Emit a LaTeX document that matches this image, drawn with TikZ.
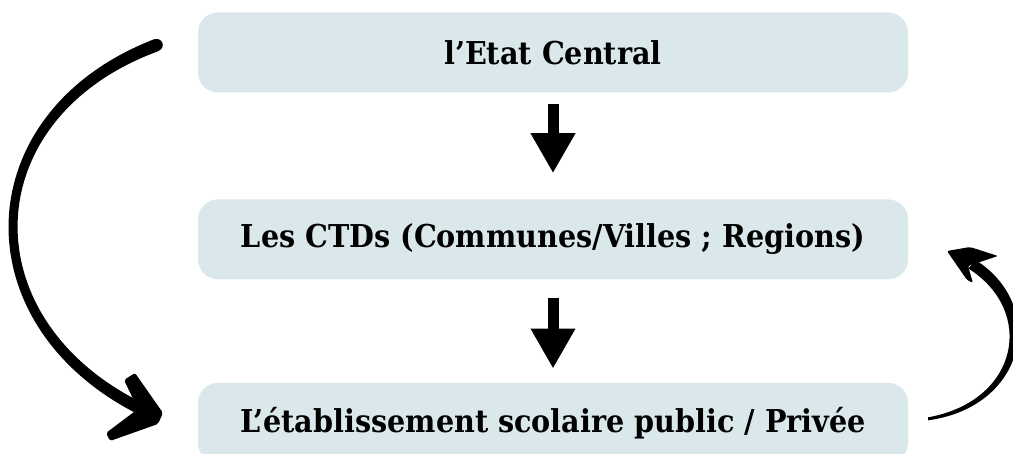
\documentclass[tikz,border=0pt]{standalone}
\usepackage{fontspec}
\setmainfont{DejaVu Serif}[FakeStretch=0.91]
\usepackage{tikz}
\usetikzlibrary{arrows.meta, positioning, calc}
\definecolor{boxfill}{RGB}{219,232,235}

\begin{document}
\begin{tikzpicture}[x=1pt, y=1pt,
  level/.style={fill=boxfill, rounded corners=20pt, minimum width=710pt, minimum height=80pt,
    font=\fontsize{31.5}{38}\selectfont\bfseries},
  down/.style={line width=11pt, -{Triangle[width=42pt, length=40pt]}}]
  \clip (0,0) rectangle (1013,454);
  \node[level] (etat) at (553,401.5) {l’Etat Central};
  \node[level, below=106.5pt of etat] (ctd) {Les CTDs (Communes/Villes ; Regions)};
  \node[level, below=103pt of ctd] (ecole) {L’établissement scolaire public / Privée};
  \draw[down, shorten <=11.5pt, shorten >=26pt] (etat) -- (ctd);
  \draw[down, shorten <=18pt, shorten >=14pt] (ctd) -- (ecole);
  % left brush arrow
  \coordinate (top) at ([xshift=-41pt, yshift=7.5pt]etat.west);
  \coordinate (bot) at ([xshift=-53pt, yshift=12pt]ecole.west);
  \fill (top) circle (6pt);
  \fill ($(top)+(-2,6)$) .. controls (-35,342) and (-41,127) .. ($(bot)+(-2.6,-5.5)$)
    -- ($(bot)+(2.6,5.5)$) .. controls (-30,132) and (-25,336) .. ($(top)+(2,-6)$) -- cycle;
  \fill[rounded corners=2pt] (124,74) -- (135,81) -- (163,41) -- (158,30) -- (110,13) -- (106,21) -- (138,45) -- cycle;
  % right brush arrow
  \coordinate (rs) at ([xshift=20pt, yshift=4pt]ecole.east);
  \coordinate (re) at ([xshift=64pt, yshift=-25pt]ctd.east);
  \fill ($(rs)+(0,-1.5)$) .. controls (1025,47) and (1048,147) .. ($(re)+(4,4)$)
    -- ($(re)+(-4,-4)$) .. controls (1036,143) and (1019,53) .. ($(rs)+(0,1.5)$) -- cycle;
  \fill[rounded corners=2pt] (947,203) -- (970,207) -- (998,198) -- (983,193) -- (968,188) -- (973,171) -- (967,174) -- cycle;
\end{tikzpicture}
\end{document}
